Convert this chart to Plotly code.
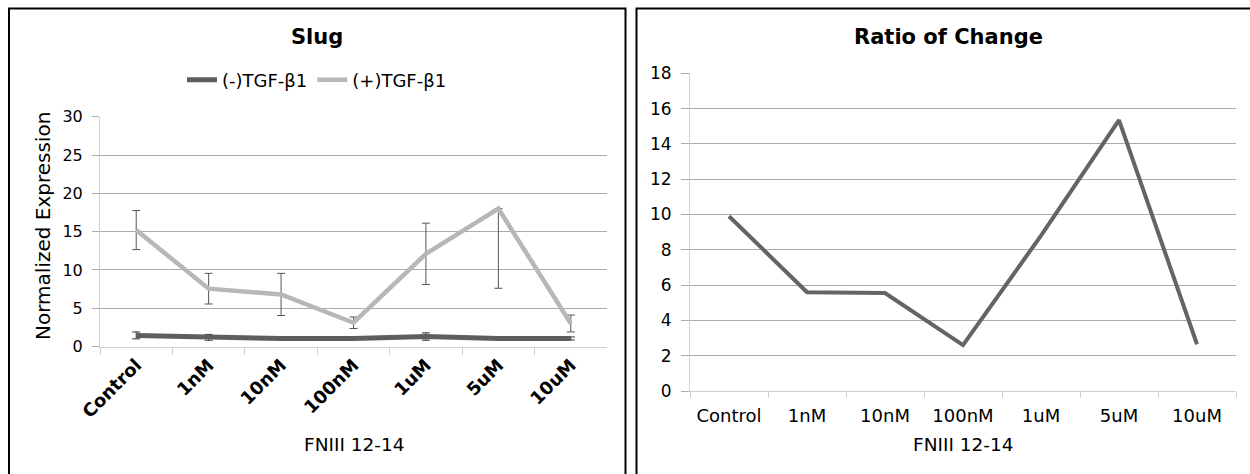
import plotly.graph_objects as go

# ---- data ----
categories = ["Control", "1nM", "10nM", "100nM", "1uM", "5uM", "10uM"]

minus_tgf = [1.45, 1.2, 1.05, 1.05, 1.3, 1.05, 1.05]
minus_err = [0.45, 0.38, 0.15, 0.15, 0.48, 0.15, 0.2]

plus_tgf = [15.2, 7.55, 6.8, 3.1, 12.1, 18.0, 3.0]
plus_err_up = [2.55, 2.0, 2.75, 0.75, 4.0, 0.0, 1.1]
plus_err_down = [2.55, 2.0, 2.75, 0.75, 4.0, 10.4, 1.1]

ratio = [9.9, 5.6, 5.55, 2.6, 8.8, 15.35, 2.65]

W, H = 1250, 474
FONT = "DejaVu Sans"


def px_x(x):
    return x / W


def px_y(y):
    return (H - y) / H


fig = go.Figure()

fig.add_trace(go.Scatter(
    x=categories, y=minus_tgf, name="(-)TGF-β1", mode="lines",
    line=dict(color="#5e5e5e", width=5),
    error_y=dict(type="data", array=minus_err, color="#333333", thickness=1, width=4),
    xaxis="x", yaxis="y",
))
fig.add_trace(go.Scatter(
    x=categories, y=plus_tgf, name="(+)TGF-β1", mode="lines",
    line=dict(color="#b7b7b7", width=4.5),
    error_y=dict(type="data", symmetric=False, array=plus_err_up,
                 arrayminus=plus_err_down, color="#555555", thickness=1, width=4),
    xaxis="x", yaxis="y",
))
fig.add_trace(go.Scatter(
    x=categories, y=ratio, name="Ratio", mode="lines", showlegend=False,
    line=dict(color="#646464", width=4),
    xaxis="x2", yaxis="y2",
))

grid = "#ababab"
axis_line = "#cfcfcf"

fig.update_layout(
    width=W, height=H,
    margin=dict(l=0, r=0, t=0, b=0, autoexpand=False),
    paper_bgcolor="white", plot_bgcolor="white",
    font=dict(family=FONT, color="black"),
    legend=dict(
        orientation="h", x=px_x(317), xanchor="center", y=px_y(80), yanchor="middle",
        font=dict(size=18, family=FONT), itemwidth=30, bgcolor="rgba(0,0,0,0)",
    ),
    xaxis=dict(
        domain=[px_x(100), px_x(607)], type="category", range=[-0.5, 6.5],
        tickson="boundaries", ticks="outside", ticklen=7, tickcolor=axis_line,
        showgrid=False, showline=True, linecolor=axis_line, linewidth=1,
        tickangle=-45, tickfont=dict(size=18, family=FONT, weight="bold"),
        anchor="y",
    ),
    yaxis=dict(
        domain=[px_y(346.5), px_y(116.7)], range=[0, 30], dtick=5,
        showgrid=True, gridcolor=grid, gridwidth=1,
        showline=True, linecolor=axis_line, zeroline=False,
        ticks="outside", ticklen=7, tickcolor=grid,
        tickfont=dict(size=16, family=FONT), ticklabelstandoff=6,
        anchor="x",
    ),
    xaxis2=dict(
        domain=[px_x(690), px_x(1236)], type="category", range=[-0.5, 6.5],
        tickson="boundaries", ticks="outside", ticklen=6, tickcolor=axis_line,
        showgrid=False, showline=True, linecolor=axis_line, linewidth=1,
        tickangle=0, tickfont=dict(size=18, family=FONT), ticklabelstandoff=8,
        anchor="y2",
    ),
    yaxis2=dict(
        domain=[px_y(391), px_y(73.3)], range=[0, 18], dtick=2,
        showgrid=True, gridcolor=grid, gridwidth=1,
        showline=True, linecolor=axis_line, zeroline=False,
        ticks="outside", ticklen=8, tickcolor=grid,
        tickfont=dict(size=17, family=FONT), ticklabelstandoff=6,
        anchor="x2",
    ),
)

annotations = [
    dict(text="<b>Slug</b>", x=px_x(317), y=px_y(37), font=dict(size=21)),
    dict(text="<b>Ratio of Change</b>", x=px_x(948), y=px_y(37), font=dict(size=21)),
    dict(text="Normalized Expression", x=px_x(43), y=px_y(226), textangle=-90,
         font=dict(size=20)),
    dict(text="FNIII 12-14", x=px_x(354), y=px_y(444), font=dict(size=18.5)),
    dict(text="FNIII 12-14", x=px_x(963), y=px_y(444), font=dict(size=18.5)),
]
for a in annotations:
    a.update(xref="paper", yref="paper", showarrow=False,
             xanchor="center", yanchor="middle")
    a["font"].update(family=FONT, color="black")
fig.update_layout(annotations=annotations)

# panel frames
frame = dict(color="black", width=2)
fig.update_layout(shapes=[
    dict(type="rect", xref="paper", yref="paper",
         x0=px_x(9), x1=px_x(625.5), y0=-0.1, y1=px_y(8.5), line=frame),
    dict(type="rect", xref="paper", yref="paper",
         x0=px_x(636.5), x1=1.1, y0=-0.1, y1=px_y(8.5), line=frame),
])

fig.write_html("out.html")
